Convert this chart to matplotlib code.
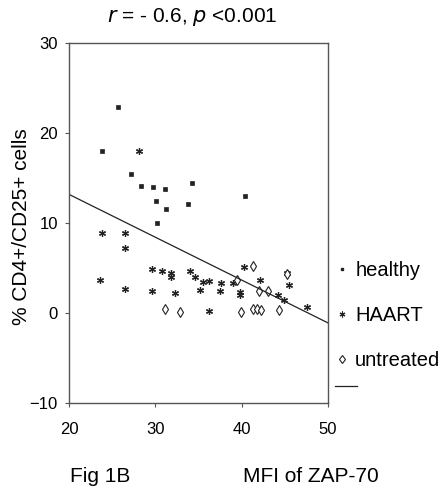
import numpy as np
import matplotlib
matplotlib.use("Agg")
import matplotlib.pyplot as plt
from matplotlib.lines import Line2D

plt.rcParams['font.family'] = ['Liberation Sans', 'DejaVu Sans']

# healthy donors
healthy_x = [25.65, 23.83, 27.19, 28.39, 29.71, 31.14, 34.19, 40.38, 30.09, 33.84, 31.21, 30.17]
healthy_y = [22.9, 18.0, 15.5, 14.1, 14.0, 13.8, 14.5, 13.0, 12.4, 12.1, 11.6, 10.0]

# HAART treated
haart_x = [28.08, 23.83, 26.53, 26.46, 23.63, 26.46, 29.67, 29.59, 30.83, 31.76, 31.76,
           32.30, 34.0, 34.58, 35.20, 35.55, 36.2, 36.16, 37.44, 37.63, 39.02, 39.76,
           39.84, 40.22, 42.16, 44.17, 44.9, 45.48, 45.3, 47.57]
haart_y = [18.0, 8.9, 8.9, 7.2, 3.7, 2.7, 4.9, 2.5, 4.65, 4.4, 4.0,
           2.2, 4.7, 4.0, 2.6, 3.45, 3.6, 0.2, 2.4, 3.3, 3.3, 2.35,
           2.0, 5.1, 3.7, 2.0, 1.45, 3.15, 4.4, 0.7]

# untreated
untreated_x = [31.17, 32.88, 39.45, 39.87, 41.31, 41.27, 41.77, 42.27, 42.04, 43.05, 44.28, 45.24]
untreated_y = [0.4, 0.1, 3.7, 0.15, 5.25, 0.45, 0.45, 0.3, 2.4, 2.4, 0.3, 4.3]

# regression line
fit_intercept = 22.7
fit_slope = -0.476
fit_range = [20, 50]

fig = plt.figure(figsize=(4.48, 4.92), dpi=100)
ax = fig.add_axes([69 / 448, 1 - 403 / 492, 259 / 448, 360 / 492])

dark = '#222222'
ax.plot(healthy_x, healthy_y, ls='none', marker='s', ms=2.4, mfc=dark, mec=dark, mew=0.5)
ax.plot(haart_x, haart_y, ls='none', marker=(6, 2, 0), ms=5, mec=dark, mew=0.9)
ax.plot(untreated_x, untreated_y, ls='none', marker='d', ms=5.2, mfc='white', mec=dark, mew=0.8)

xs = np.array(fit_range)
ax.plot(xs, fit_intercept + fit_slope * xs, color=dark, lw=0.9)

ax.set_xlim(20, 50)
ax.set_ylim(-10, 30)
ax.set_xticks([20, 30, 40, 50])
ax.set_yticks([-10, 0, 10, 20, 30])
ax.tick_params(labelsize=12, length=3, width=0.8, color='#555555')
ax.tick_params(axis='x', pad=11)
ax.tick_params(axis='y', pad=5)
for s in ax.spines.values():
    s.set_color('#555555')
    s.set_linewidth(1.0)

ax.set_ylabel('% CD4+/CD25+ cells', fontsize=15)
ax.yaxis.set_label_coords(-38 / 259, 0.49)

fig.text(192 / 448, 1 - 17 / 492, r'$\it{r}$ = - 0.6, $\it{p}$ <0.001', fontsize=15,
         ha='center', va='center', math_fontfamily='custom')
fig.text(70 / 448, 1 - 477 / 492, 'Fig 1B', fontsize=15, ha='left', va='center')
fig.text(243 / 448, 1 - 477 / 492, 'MFI of ZAP-70', fontsize=15, ha='left', va='center')

handles = [
    Line2D([], [], ls='none', marker='s', ms=2.0, mfc=dark, mec=dark),
    Line2D([], [], ls='none', marker=(6, 2, 0), ms=4.2, mec=dark, mew=0.8),
    Line2D([], [], ls='none', marker='d', ms=4.5, mfc='white', mec=dark, mew=0.8),
]
fig.legend(handles, ['healthy', 'HAART', 'untreated'], loc='upper left',
           bbox_to_anchor=(336 / 448, 1 - 261 / 492), frameon=False, fontsize=14.5,
           handlelength=0.6, handletextpad=0.35, labelspacing=1.3, borderpad=0,
           borderaxespad=0)
# regression key below the legend
fig.add_artist(Line2D([335 / 448, 357 / 448], [1 - 386 / 492, 1 - 386 / 492],
                      transform=fig.transFigure, color=dark, lw=0.9))

fig.savefig('out.png', dpi=100)
